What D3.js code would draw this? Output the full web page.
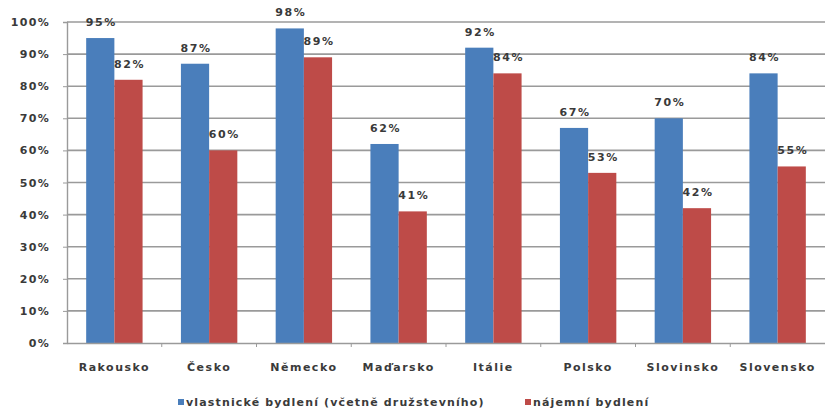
<!DOCTYPE html>
<html>
<head>
<meta charset="utf-8">
<script src="https://cdn.jsdelivr.net/npm/d3@7"></script>
<style>
  html, body { margin: 0; padding: 0; background: #fff; }
  svg text { font-family: "DejaVu Sans", sans-serif; font-weight: 700; fill: #3a3a3a; }
</style>
</head>
<body>
<svg id="chart" width="825" height="415"></svg>
<script>
const countries = ["Rakousko", "Česko", "Německo", "Maďarsko", "Itálie", "Polsko", "Slovinsko", "Slovensko"];
const ownerOccupied = [95, 87, 98, 62, 92, 67, 70, 84];
const rental = [82, 60, 89, 41, 84, 53, 42, 55];
const seriesNames = ["vlastnické bydlení (včetně družstevního)", "nájemní bydlení"];
const seriesColors = ["#4a7ebb", "#be4b48"];
const yTicks = [0, 10, 20, 30, 40, 50, 60, 70, 80, 90, 100];

const svg = d3.select("#chart");
const plot = { left: 67, right: 825, top: 22, bottom: 343 };

const x = d3.scaleBand().domain(countries).range([plot.left, plot.right]).paddingInner(0).paddingOuter(0);
const inner = d3.scaleBand().domain([0, 1]).range([0, x.bandwidth()]).paddingInner(0).paddingOuter(0.68);
const y = d3.scaleLinear().domain([0, 100]).range([plot.bottom, plot.top]);

// horizontal gridlines
svg.append("g").selectAll("line").data(yTicks.filter(d => d > 0)).join("line")
  .attr("x1", plot.left).attr("x2", plot.right)
  .attr("y1", d => y(d)).attr("y2", d => y(d))
  .attr("stroke", "#9a9a9a").attr("stroke-width", 1.6);

// y axis
const yAxis = svg.append("g").attr("transform", `translate(${plot.left},0)`)
  .call(d3.axisLeft(y).tickValues(yTicks).tickFormat(d => d + "%").tickSize(4).tickPadding(13));
yAxis.select(".domain").attr("stroke", "#9a9a9a").attr("stroke-width", 1.4);
yAxis.selectAll(".tick line").attr("stroke", "#9a9a9a");
yAxis.selectAll("text").style("font-size", "11px").style("letter-spacing", "1.3px")
  .style("font-family", "'DejaVu Sans', sans-serif").attr("fill", "#3a3a3a");

// bars
const series = [ownerOccupied, rental];
series.forEach((vals, si) => {
  const g = svg.append("g");
  g.selectAll("rect").data(countries).join("rect")
    .attr("x", c => x(c) + inner(si))
    .attr("width", inner.bandwidth())
    .attr("y", (c, i) => y(vals[i]))
    .attr("height", (c, i) => y(0) - y(vals[i]))
    .attr("fill", seriesColors[si]);
  g.selectAll("text").data(countries).join("text")
    .attr("x", c => x(c) + inner(si) + inner.bandwidth() / 2 + 1)
    .attr("y", (c, i) => y(vals[i]) - 12)
    .attr("text-anchor", "middle")
    .style("font-size", "11px")
    .style("letter-spacing", "1.6px")
    .text((c, i) => vals[i] + "%");
});

// x axis
const xAxis = svg.append("g").attr("transform", `translate(0,${plot.bottom})`)
  .call(d3.axisBottom(x).tickSize(0).tickPadding(20));
xAxis.select(".domain").attr("stroke", "#9a9a9a").attr("stroke-width", 1.6);
xAxis.selectAll("text").style("font-size", "11px").style("letter-spacing", "1.5px")
  .style("font-family", "'DejaVu Sans', sans-serif").attr("fill", "#3a3a3a");
// category boundary ticks
svg.append("g").selectAll("line").data(countries.slice(1)).join("line")
  .attr("x1", c => x(c)).attr("x2", c => x(c))
  .attr("y1", plot.bottom).attr("y2", plot.bottom + 4)
  .attr("stroke", "#9a9a9a");

// legend
const legend = svg.append("g").attr("transform", "translate(178,402)");
const legendX = [0, 347];
seriesNames.forEach((name, i) => {
  const item = legend.append("g").attr("transform", `translate(${legendX[i]},0)`);
  item.append("rect").attr("x", 0).attr("y", -3).attr("width", 6).attr("height", 6).attr("fill", seriesColors[i]);
  item.append("text").attr("x", 8).attr("y", 0).attr("dy", "0.35em")
    .style("font-size", "11px").style("letter-spacing", "1.15px").text(name);
});
</script>
</body>
</html>
